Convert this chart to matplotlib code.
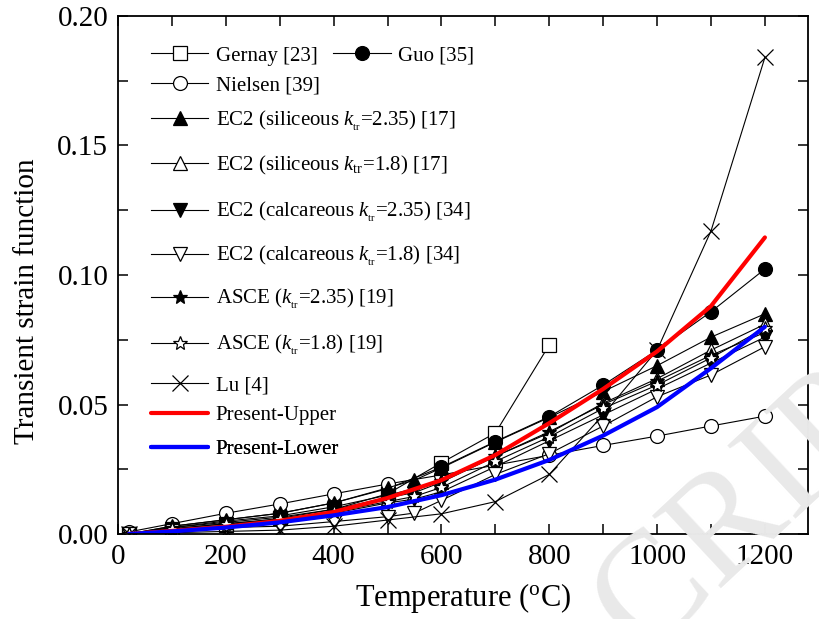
import numpy as np
import matplotlib
matplotlib.use('Agg')
import matplotlib.pyplot as plt
from matplotlib.ticker import MultipleLocator

plt.rcParams['font.family'] = ['Liberation Serif', 'DejaVu Serif']
plt.rcParams['mathtext.fontset'] = 'custom'
plt.rcParams['mathtext.rm'] = 'Liberation Serif'
plt.rcParams['mathtext.it'] = 'Liberation Serif:italic'

# Temperatures (deg C)
t_ec2 = [20, 100, 200, 300, 400, 500, 550, 600, 700, 800, 900, 1000, 1100, 1200]
t_full = [20, 100, 200, 300, 400, 500, 600, 700, 800, 900, 1000, 1100, 1200]
t_gernay = [20, 100, 200, 300, 400, 500, 600, 700, 800]

# Transient strain functions
gernay = [0.0, 0.0015, 0.0035, 0.006, 0.0095, 0.0155, 0.0275, 0.039, 0.073]
guo = [0.0, 0.003, 0.0055, 0.008, 0.012, 0.0175, 0.0258, 0.0357, 0.0453, 0.0575, 0.071, 0.0858, 0.1023]
nielsen = [0.0008, 0.0040, 0.0080, 0.0116, 0.0155, 0.0193, 0.0228, 0.0266, 0.0304, 0.0342, 0.0378, 0.0417, 0.0455]
ec2_sil_235 = [0.0, 0.0030, 0.0055, 0.0080, 0.0120, 0.0178, 0.0208, 0.0255, 0.0355, 0.0450, 0.0550, 0.0650, 0.0760, 0.0850]
ec2_sil_18 = [0.0, 0.0025, 0.0045, 0.0065, 0.0095, 0.0140, 0.0160, 0.0200, 0.0300, 0.0390, 0.0505, 0.0600, 0.0710, 0.0810]
ec2_cal_235 = [0.0, 0.0020, 0.0040, 0.0055, 0.0080, 0.0120, 0.0135, 0.0163, 0.0260, 0.0360, 0.0460, 0.0560, 0.0660, 0.0760]
ec2_cal_18 = [0.0, 0.0010, 0.0025, 0.0030, 0.0048, 0.0067, 0.0081, 0.0130, 0.0230, 0.0310, 0.0417, 0.0530, 0.0614, 0.0723]
asce_235 = [0.0, 0.0025, 0.0050, 0.0070, 0.0105, 0.0150, 0.0175, 0.0205, 0.0300, 0.0395, 0.0500, 0.0590, 0.0690, 0.0778]
asce_18 = [0.0, 0.0020, 0.0040, 0.0058, 0.0085, 0.0125, 0.0145, 0.0180, 0.0280, 0.0375, 0.0485, 0.0575, 0.0680, 0.0795]
lu = [0.0, 0.0005, 0.001, 0.0015, 0.003, 0.0054, 0.0078, 0.0125, 0.0230, 0.046, 0.071, 0.117, 0.184]
present_upper = [0.0, 0.0012, 0.0028, 0.0051, 0.0085, 0.0139, 0.0208, 0.0305, 0.0428, 0.0560, 0.0705, 0.0880, 0.1145]
present_lower = [0.0, 0.0010, 0.0025, 0.0045, 0.0072, 0.0104, 0.0150, 0.0210, 0.0286, 0.0380, 0.0490, 0.0640, 0.0800]

fig = plt.figure(figsize=(8.2, 6.19), dpi=100)
ax = fig.add_axes([0.1439, 0.1373, 0.8415, 0.8369])

# faint diagonal watermark behind everything
fig.text(0.783, -0.06, 'CRIPT', rotation=43, rotation_mode='anchor',
         fontsize=110, color='#e9e9e9', ha='left', va='baseline', zorder=0)
ax.set_facecolor('none')

mk = dict(color='black', lw=0.8, ms=10, mec='black', mew=0.9)
open_ = dict(mfc='white')
fill_ = dict(mfc='black')

ktr_small = r'$k_{_{\mathrm{tr}}}$'
ktr_big = r'$k_{\mathrm{tr}}$'

h_gernay, = ax.plot(t_gernay, gernay, marker='s', label='Gernay [23]', **mk, **open_)
h_guo, = ax.plot(t_full, guo, marker='o', label='Guo [35]', **mk, **fill_)
h_niel, = ax.plot(t_full, nielsen, marker='o', label='Nielsen [39]', **mk, **open_)
h1, = ax.plot(t_ec2, ec2_sil_235, marker='^', label='EC2 (siliceous ' + ktr_small + '=2.35) [17]', **mk, **fill_)
h2, = ax.plot(t_ec2, ec2_sil_18, marker='^', label='EC2 (siliceous ' + ktr_big + '=1.8) [17]', **mk, **open_)
h3, = ax.plot(t_ec2, ec2_cal_235, marker='v', label='EC2 (calcareous ' + ktr_small + '=2.35) [34]', **mk, **fill_)
h4, = ax.plot(t_ec2, ec2_cal_18, marker='v', label='EC2 (calcareous ' + ktr_small + '=1.8) [34]', **mk, **open_)
h5, = ax.plot(t_ec2, asce_235, marker='*', label='ASCE (' + ktr_small + '=2.35) [19]', **mk, **fill_)
h6, = ax.plot(t_ec2, asce_18, marker='*', label='ASCE (' + ktr_small + '=1.8) [19]', **mk, **open_)
h_lu, = ax.plot(t_full, lu, marker='x', label='Lu [4]', color='black', lw=0.8, ms=12, mew=0.9)
h_up, = ax.plot(t_full, present_upper, color='#ff0000', lw=3, label='Present-Upper', solid_capstyle='round')
h_lo, = ax.plot(t_full, present_lower, color='#0000ff', lw=3, label='Present-Lower', solid_capstyle='round')

ax.set_xlim(0, 1280)
ax.set_ylim(0, 0.20)
ax.xaxis.set_major_locator(MultipleLocator(200))
ax.xaxis.set_minor_locator(MultipleLocator(100))
ax.yaxis.set_major_locator(MultipleLocator(0.05))
ax.yaxis.set_minor_locator(MultipleLocator(0.025))
ax.yaxis.set_major_formatter(plt.FormatStrFormatter('%.2f'))
ax.tick_params(which='both', direction='in', top=True, right=True, length=7, width=1.1,
               labelsize=21, pad=7)
for s in ax.spines.values():
    s.set_linewidth(1.3)

ax.set_xlabel(r'Temperature ($^{\mathrm{o}}$C)', fontsize=22, labelpad=8)
ax.set_ylabel('Transient strain function', fontsize=21)
ax.yaxis.set_label_coords(-0.113, 0.45)

# legend rows: one small legend per entry so rows can sit at uneven heights
leg_kw = dict(frameon=False, fontsize=15, handlelength=2.75, handletextpad=0.35,
              borderaxespad=0, borderpad=0, loc='center left')
rows = [(h_gernay, 0.048, 0.923), (h_guo, 0.312, 0.923), (h_niel, 0.048, 0.865),
        (h1, 0.048, 0.798), (h2, 0.048, 0.712), (h3, 0.048, 0.621),
        (h4, 0.048, 0.536), (h5, 0.048, 0.453), (h6, 0.048, 0.365),
        (h_lu, 0.048, 0.287), (h_up, 0.048, 0.229), (h_lo, 0.048, 0.163)]
for h, x0, y0 in rows:
    lg = ax.legend([h], [h.get_label()], bbox_to_anchor=(x0, y0), **leg_kw)
    ax.add_artist(lg)

fig.savefig('out.png', dpi=100)
